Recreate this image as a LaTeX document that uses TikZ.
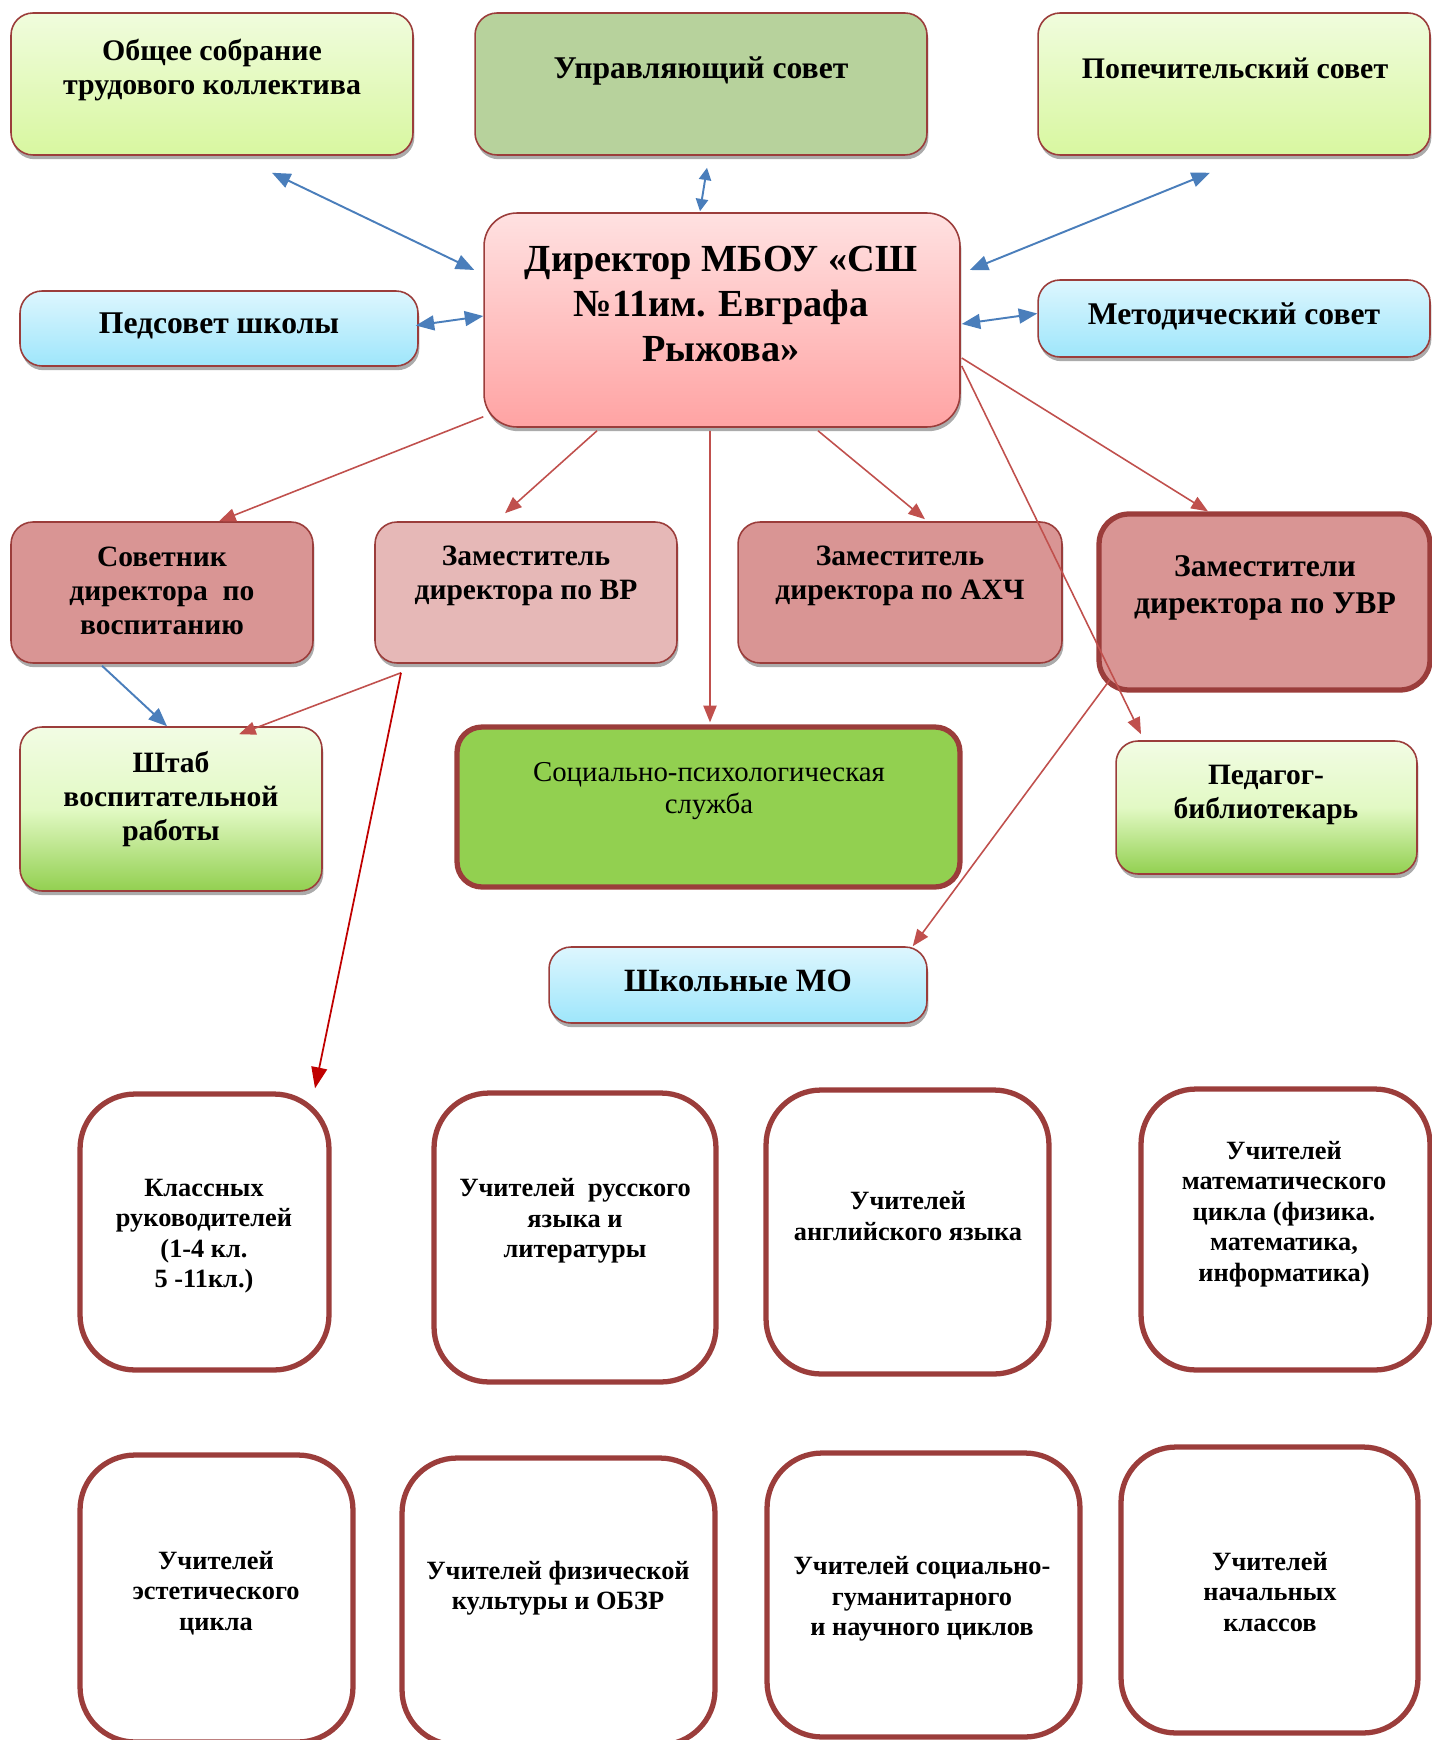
\documentclass[tikz,border=0pt]{standalone}
\usepackage{fontspec}
\setmainfont{Liberation Serif}
\usetikzlibrary{arrows.meta,shadows}
\definecolor{brd}{HTML}{9B3D3B}
\definecolor{limetop}{HTML}{F0FCDD}
\definecolor{limebot}{HTML}{D8F7A0}
\definecolor{olive}{HTML}{B7D29C}
\definecolor{pinktop}{HTML}{FFE1E1}
\definecolor{pinkbot}{HTML}{FFA3A3}
\definecolor{skytop}{HTML}{DDF6FE}
\definecolor{skybot}{HTML}{9EE6FB}
\definecolor{rose}{HTML}{D99594}
\definecolor{palerose}{HTML}{E6B8B7}
\definecolor{greentop}{HTML}{F2FCE4}
\definecolor{greenmid}{HTML}{E2F9C4}
\definecolor{grass}{HTML}{92D050}
\definecolor{arrblue}{HTML}{4A7EBB}
\definecolor{arrred}{HTML}{C0504D}
\definecolor{darkred}{HTML}{C00000}
\tikzstyle{orgbox} = [draw=brd, line width=0.9pt, rectangle, rounded corners=0.44cm, drop shadow={shadow xshift=0.8pt, shadow yshift=-2.4pt, fill=black!60, opacity=.55}]
\tikzstyle{thickbox} = [draw=brd, line width=3pt, rectangle, rounded corners=0.5cm]
\tikzstyle{cellbox} = [draw=brd, line width=3pt, rectangle, rounded corners=1.1cm, fill=white]
\tikzstyle{limefill} = [top color=limetop, bottom color=limebot]
\tikzstyle{skyfill} = [top color=skytop, bottom color=skybot]
\tikzstyle{greenfill} = [top color=greentop, bottom color=grass, middle color=greenmid]
\tikzstyle{hugetxt} = [align=center, inner sep=0pt, font=\bfseries\fontsize{21.8}{25.8}\selectfont]
\tikzstyle{bigtxt} = [align=center, inner sep=0pt, font=\bfseries\fontsize{18}{20.7}\selectfont]
\tikzstyle{midtxt} = [align=center, inner sep=0pt, font=\bfseries\fontsize{16.8}{19.5}\selectfont]
\tikzstyle{celltxt} = [align=center, inner sep=0pt, font=\bfseries\fontsize{15}{17.3}\selectfont]
\tikzstyle{blueline} = [draw=arrblue, line width=1.1pt, >={Triangle[length=10.5pt,width=8.5pt]}]
\tikzstyle{redline} = [draw=arrred, line width=0.9pt, ->]
\tikzstyle{darkline} = [draw=darkred, line width=1pt, ->, >={Triangle[length=12pt,width=9pt]}]

\begin{document}
\begin{tikzpicture}[x=0.02cm, y=-0.02cm, >={Triangle[length=9.5pt,width=7.5pt]}]
\useasboundingbox (0,0) rectangle (1432,1740);

\node[orgbox, limefill, minimum width=8.04cm, minimum height=2.84cm] (sobr) at (212,84) {};
\node[orgbox, fill=olive, minimum width=9.04cm, minimum height=2.84cm] (upr) at (701,84) {};
\node[orgbox, limefill, minimum width=7.84cm, minimum height=2.84cm] (pop) at (1234,84) {};
\node[orgbox, top color=pinktop, bottom color=pinkbot, rounded corners=0.66cm, minimum width=9.52cm, minimum height=4.28cm] (dir) at (722,320) {};
\node[orgbox, skyfill, minimum width=7.96cm, minimum height=1.5cm] (ped) at (219,328.5) {};
\node[orgbox, skyfill, minimum width=7.84cm, minimum height=1.54cm] (met) at (1234,318.5) {};
\node[orgbox, fill=rose, minimum width=6.04cm, minimum height=2.82cm] (sov) at (162,592.5) {};
\node[orgbox, fill=palerose, minimum width=6.04cm, minimum height=2.82cm] (vr) at (526,592.5) {};
\node[orgbox, fill=rose, minimum width=6.48cm, minimum height=2.82cm] (ahch) at (900,592.5) {};
\node[thickbox, fill=rose, rounded corners=0.6cm, minimum width=6.62cm, minimum height=3.52cm] (uvr) at (1264.5,602) {};
\node[orgbox, greenfill, minimum width=6.04cm, minimum height=3.28cm] (shtab) at (171,809) {};
\node[thickbox, fill=grass, minimum width=10.06cm, minimum height=3.2cm] (sps) at (708.5,807) {};
\node[orgbox, greenfill, minimum width=6.02cm, minimum height=2.66cm] (bib) at (1266.5,807.5) {};
\node[orgbox, skyfill, minimum width=7.56cm, minimum height=1.52cm] (mo) at (738,985) {};

\node[cellbox, minimum width=4.98cm, minimum height=5.52cm] (kl) at (204.5,1232) {};
\node[cellbox, minimum width=5.64cm, minimum height=5.78cm] (rus) at (575,1237.5) {};
\node[cellbox, minimum width=5.66cm, minimum height=5.68cm] (eng) at (907.5,1232) {};
\node[cellbox, minimum width=5.78cm, minimum height=5.62cm] (mat) at (1285.5,1229.5) {};
\node[cellbox, minimum width=5.46cm, minimum height=5.74cm] (est) at (216.5,1598.5) {};
\node[cellbox, minimum width=6.26cm, minimum height=5.74cm] (fiz) at (558.5,1601.5) {};
\node[cellbox, minimum width=6.26cm, minimum height=5.68cm] (gum) at (923.5,1595) {};
\node[cellbox, minimum width=5.94cm, minimum height=5.72cm] (nach) at (1269.5,1590) {};

\node[midtxt, font=\bfseries\fontsize{17}{19.8}\selectfont] (sobrtxt) at (212,70) {Общее собрание\\трудового коллектива};
\node[bigtxt] (uprtxt) at (701,71) {Управляющий совет};
\node[midtxt, font=\bfseries\fontsize{17}{19.8}\selectfont] (poptxt) at (1235,68) {Попечительский совет};
\node[hugetxt] (dirtxt) at (721,304) {Директор МБОУ «СШ\\№11им. Евграфа\\Рыжова»};
\node[bigtxt] (pedtxt) at (219,326) {Педсовет школы};
\node[bigtxt] (mettxt) at (1234,316) {Методический совет};
\node[midtxt] (sovtxt) at (162,591) {Советник\\директора\ \ по\\воспитанию};
\node[midtxt] (vrtxt) at (526,576) {Заместитель\\директора по ВР};
\node[midtxt] (ahchtxt) at (900,576) {Заместитель\\директора по АХЧ};
\node[bigtxt] (uvrtxt) at (1265,588) {Заместители\\директора по УВР};
\node[midtxt] (shtabtxt) at (171,799) {Штаб\\воспитательной\\работы};
\node[midtxt, font=\fontsize{16.4}{18.7}\selectfont] (spstxt) at (709,791) {Социально-психологическая\\служба};
\node[midtxt] (bibtxt) at (1266,795) {Педагог-\\библиотекарь};
\node[bigtxt, font=\bfseries\fontsize{18.5}{21}\selectfont] (motxt) at (738,981) {Школьные МО};

\node[celltxt] (kltxt) at (204,1236) {Классных\\руководителей\\(1-4 кл.\\5 -11кл.)};
\node[celltxt] (rustxt) at (575,1221) {Учителей\ \ русского\\языка и\\литературы};
\node[celltxt] (engtxt) at (908,1216) {Учителей\\английского языка};
\node[celltxt] (mattxt) at (1284,1214) {Учителей\\математического\\цикла (физика.\\математика,\\информатика)};
\node[celltxt] (esttxt) at (216,1593) {Учителей\\эстетического\\цикла};
\node[celltxt] (fiztxt) at (558,1588) {Учителей физической\\культуры и ОБЗР};
\node[celltxt] (gumtxt) at (922,1599) {Учителей социально-\\гуманитарного\\и научного циклов};
\node[celltxt] (nachtxt) at (1270,1592) {Учителей\\начальных\\классов};

\draw[blueline, <->] ([shift={(60,17)}]sobr.south) -- ([shift={(-9,-50)}]dir.west);
\draw[blueline, <->, >={Triangle[length=7pt,width=7pt]}] ([shift={(6,12)}]upr.south) -- ([shift={(-22,-1)}]dir.north);
\draw[blueline, <->] ([shift={(-24,17)}]pop.south) -- ([shift={(9,-50)}]dir.east);
\draw[blueline, <->] ([shift={(-3,-3)}]ped.east) -- ([shift={(0,-4)}]dir.west);
\draw[blueline, <->] ([shift={(1,4)}]dir.east) -- ([shift={(0,-5)}]met.west);
\draw[blueline, ->] ([shift={(-60,2)}]sov.south) -- ([shift={(-4,0)}]shtab.north);

\draw[redline] ([shift={(0,-11)}]dir.south west) -- ([shift={(57,0)}]sov.north);
\draw[redline] ([shift={(-125,3)}]dir.south) -- ([shift={(-21,-8)}]vr.north);
\draw[redline] ([shift={(-12,3)}]dir.south) -- ([shift={(1.5,-2)}]sps.north);
\draw[redline] ([shift={(96,3)}]dir.south) -- ([shift={(25,-2)}]ahch.north);
\draw[redline] ([shift={(1,38)}]dir.east) -- ([shift={(-56.5,0)}]uvr.north);
\draw[redline] ([shift={(1,46)}]dir.east) -- ([shift={(-125.5,-6)}]bib.north);

\coordinate (vrout) at ([shift={(-125,9)}]vr.south);
\draw[redline] (vrout) -- ([shift={(68,8)}]shtab.north);
\draw[darkline] (vrout) -- ([shift={(110.5,-3)}]kl.north);
\draw[redline] ([shift={(-154.5,-13)}]uvr.south) -- ([shift={(-15,0)}]mo.north east);
\end{tikzpicture}
\end{document}
